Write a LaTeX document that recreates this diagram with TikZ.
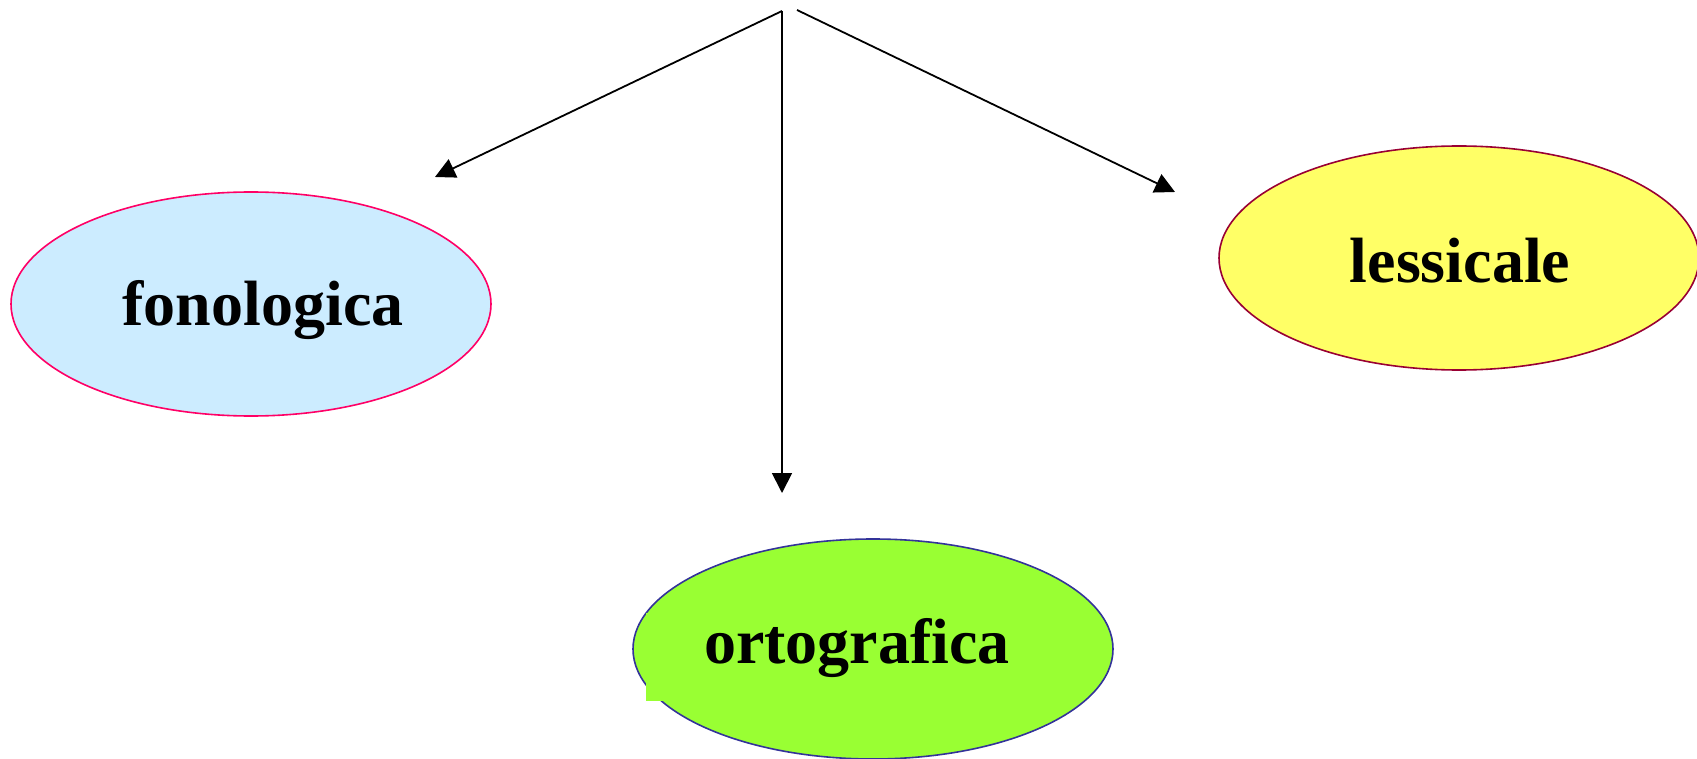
\documentclass[tikz,border=0pt]{standalone}
\usepackage{fontspec}
\setmainfont{Liberation Serif}
\usetikzlibrary{shapes.geometric,arrows.meta}
\definecolor{fonofill}{HTML}{CCECFF}
\definecolor{fonodraw}{HTML}{FF0066}
\definecolor{lessfill}{HTML}{FFFF66}
\definecolor{lessdraw}{HTML}{990033}
\definecolor{ortofill}{HTML}{99FF33}
\definecolor{ortodraw}{HTML}{333399}
\tikzset{
  blob/.style={ellipse, minimum width=480pt, minimum height=224pt, inner sep=0pt, line width=1.6pt},
  word/.style={anchor=base, inner sep=0pt, font=\bfseries\fontsize{64}{70}\selectfont},
  conn/.style={line width=1.8pt, -{Triangle[length=20pt,width=20pt]}}
}
\begin{document}
\begin{tikzpicture}[x=1pt,y=-1pt]
\useasboundingbox (0,0) rectangle (1697,759);
\node[blob, fill=fonofill, draw=fonodraw] (fono) at (251,304) {};
\node[blob, fill=lessfill, draw=lessdraw] (less) at (1459,258) {};
\node[blob, fill=ortofill, draw=ortodraw, minimum height=220pt] (orto) at (873,649) {};
\fill[ortofill] (646,613) rectangle (1069,701);
\node[word] (tfono) at (263,326) {fonologica};
\node[word] (tless) at (1460,283) {lessicale};
\node[word] (torto) at (857,663) {ortografica};
\coordinate (top) at (782,11);
\coordinate (topR) at (797,10);
\coordinate (tipL) at (435,177);
\coordinate (tipD) at (782,493);
\coordinate (tipR) at (1175,192);
\draw[conn] (top) -- (tipL);
\draw[conn] (top) -- (tipD);
\draw[conn] (topR) -- (tipR);
\end{tikzpicture}
\end{document}
